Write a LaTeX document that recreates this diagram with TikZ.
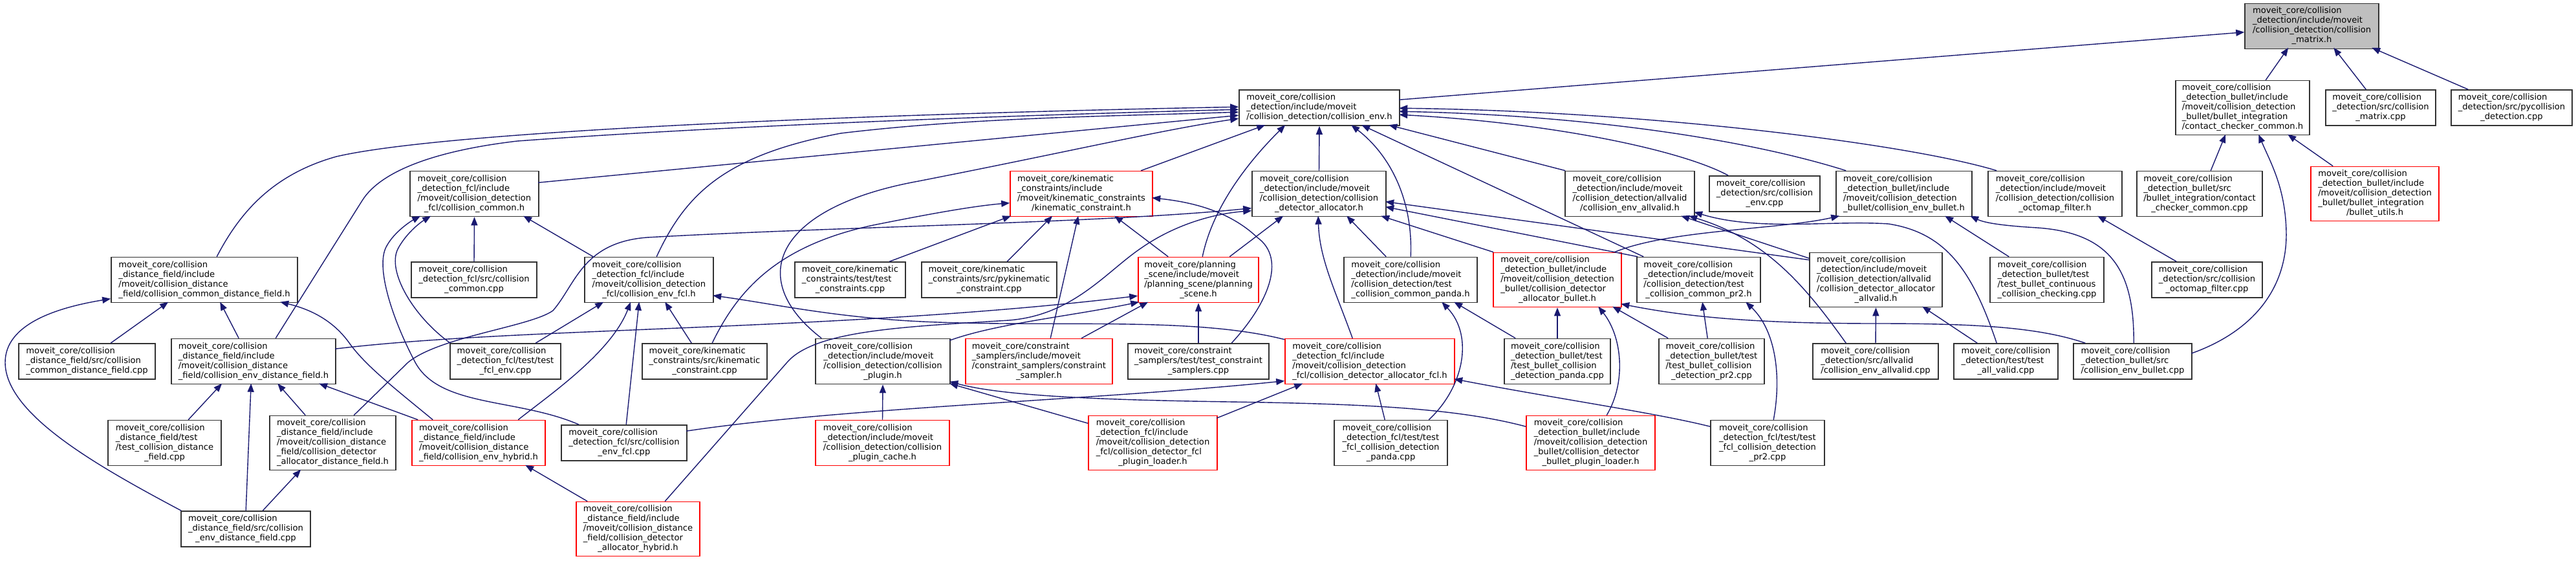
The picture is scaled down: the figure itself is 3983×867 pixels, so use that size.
\documentclass[tikz,border=0pt]{standalone}
\usepackage{fontspec}
\newfontfamily\dvs{DejaVu Sans}
\usetikzlibrary{arrows.meta,calc}
\definecolor{edgec}{HTML}{191970}
\definecolor{nodegray}{HTML}{BFBFBF}
\newcommand{\nlab}[2]{\begin{tabular}{@{}l@{}}#1\\\multicolumn{1}{@{}c@{}}{#2}\end{tabular}}
\begin{document}
\begin{tikzpicture}[x=1pt,y=-1pt,
  bx/.style={draw=black!80,line width=1.6pt,fill=white,inner sep=0pt,font={\dvs\fontsize{13.1pt}{15pt}\selectfont},anchor=center},
  rbx/.style={bx,draw=red},
  gbx/.style={bx,fill=nodegray},
  h3/.style={minimum height=55pt},
  h4/.style={minimum height=70pt},
  h5/.style={minimum height=84pt},
  dep/.style={draw=edgec,line width=1.4pt,-{Triangle[length=13pt,width=10pt]}}]
\useasboundingbox (0,0) rectangle (3983,867);
% level 0
\node[gbx,h4,minimum width=207pt] (n0) at (3574.5,40.5) {\nlab{moveit\_core/collision\\\_detection/include/moveit\\/collision\_detection/collision}{\_matrix.h}};
% row A
\node[bx,h3,minimum width=248pt] (envh) at (2040,166.5) {\nlab{moveit\_core/collision\\\_detection/include/moveit}{/collision\_detection/collision\_env.h}};
\node[bx,h5,minimum width=207pt] (ccch) at (3467.5,166.5) {\nlab{moveit\_core/collision\\\_detection\_bullet/include\\/moveit/collision\_detection\\\_bullet/bullet\_integration}{/contact\_checker\_common.h}};
\node[bx,h3,minimum width=170pt] (mcpp) at (3681,166.5) {\nlab{moveit\_core/collision\\\_detection/src/collision}{\_matrix.cpp}};
\node[bx,h3,minimum width=187pt] (pyc) at (3883.5,166.5) {\nlab{moveit\_core/collision\\\_detection/src/pycollision}{\_detection.cpp}};
% row B
\node[bx,h4,minimum width=199pt] (comh) at (733.5,299.5) {\nlab{moveit\_core/collision\\\_detection\_fcl/include\\/moveit/collision\_detection}{\_fcl/collision\_common.h}};
\node[rbx,h4,minimum width=220pt] (kinh) at (1672,299.5) {\nlab{moveit\_core/kinematic\\\_constraints/include\\/moveit/kinematic\_constraints}{/kinematic\_constraint.h}};
\node[bx,h4,minimum width=207pt] (alloch) at (2039.5,299.5) {\nlab{moveit\_core/collision\\\_detection/include/moveit\\/collision\_detection/collision}{\_detector\_allocator.h}};
\node[bx,h4,minimum width=200pt] (avh) at (2520,299.5) {\nlab{moveit\_core/collision\\\_detection/include/moveit\\/collision\_detection/allvalid}{/collision\_env\_allvalid.h}};
\node[bx,h3,minimum width=171pt] (envcpp) at (2728.5,299.5) {\nlab{moveit\_core/collision\\\_detection/src/collision}{\_env.cpp}};
\node[bx,h4,minimum width=210pt] (bulh) at (2944,299.5) {\nlab{moveit\_core/collision\\\_detection\_bullet/include\\/moveit/collision\_detection}{\_bullet/collision\_env\_bullet.h}};
\node[bx,h4,minimum width=207pt] (octh) at (3177.5,299.5) {\nlab{moveit\_core/collision\\\_detection/include/moveit\\/collision\_detection/collision}{\_octomap\_filter.h}};
\node[bx,h4,minimum width=194pt] (ccccpp) at (3401,299.5) {\nlab{moveit\_core/collision\\\_detection\_bullet/src\\/bullet\_integration/contact}{\_checker\_common.cpp}};
\node[rbx,h5,minimum width=198pt] (butl) at (3672,299.5) {\nlab{moveit\_core/collision\\\_detection\_bullet/include\\/moveit/collision\_detection\\\_bullet/bullet\_integration}{/bullet\_utils.h}};
% row C
\node[bx,h4,minimum width=288pt] (cdfh) at (316,432.5) {\nlab{moveit\_core/collision\\\_distance\_field/include\\/moveit/collision\_distance}{\_field/collision\_common\_distance\_field.h}};
\node[bx,h3,minimum width=194pt] (comcpp) at (733,432.5) {\nlab{moveit\_core/collision\\\_detection\_fcl/src/collision}{\_common.cpp}};
\node[bx,h4,minimum width=199pt] (envfclh) at (1003.5,432.5) {\nlab{moveit\_core/collision\\\_detection\_fcl/include\\/moveit/collision\_detection}{\_fcl/collision\_env\_fcl.h}};
\node[bx,h3,minimum width=171pt] (tcons) at (1314.5,432.5) {\nlab{moveit\_core/kinematic\\\_constraints/test/test}{\_constraints.cpp}};
\node[bx,h3,minimum width=209pt] (pykin) at (1529.5,432.5) {\nlab{moveit\_core/kinematic\\\_constraints/src/pykinematic}{\_constraint.cpp}};
\node[rbx,h4,minimum width=186pt] (psh) at (1853,432.5) {\nlab{moveit\_core/planning\\\_scene/include/moveit\\/planning\_scene/planning}{\_scene.h}};
\node[bx,h4,minimum width=206pt] (pandah) at (2181,432.5) {\nlab{moveit\_core/collision\\\_detection/include/moveit\\/collision\_detection/test}{\_collision\_common\_panda.h}};
\node[rbx,h5,minimum width=198pt] (allocbul) at (2408,432.5) {\nlab{moveit\_core/collision\\\_detection\_bullet/include\\/moveit/collision\_detection\\\_bullet/collision\_detector}{\_allocator\_bullet.h}};
\node[bx,h4,minimum width=191pt] (pr2h) at (2626.5,432.5) {\nlab{moveit\_core/collision\\\_detection/include/moveit\\/collision\_detection/test}{\_collision\_common\_pr2.h}};
\node[bx,h5,minimum width=205pt] (allocav) at (2900.5,432.5) {\nlab{moveit\_core/collision\\\_detection/include/moveit\\/collision\_detection/allvalid\\/collision\_detector\_allocator}{\_allvalid.h}};
\node[bx,h4,minimum width=176pt] (cont) at (3165,432.5) {\nlab{moveit\_core/collision\\\_detection\_bullet/test\\/test\_bullet\_continuous}{\_collision\_checking.cpp}};
\node[bx,h3,minimum width=171pt] (octcpp) at (3412.5,432.5) {\nlab{moveit\_core/collision\\\_detection/src/collision}{\_octomap\_filter.cpp}};
% row D
\node[bx,h3,minimum width=211pt] (cdfcpp) at (134.5,558.5) {\nlab{moveit\_core/collision\\\_distance\_field/src/collision}{\_common\_distance\_field.cpp}};
\node[bx,h4,minimum width=254pt] (edfh) at (392,558.5) {\nlab{moveit\_core/collision\\\_distance\_field/include\\/moveit/collision\_distance}{\_field/collision\_env\_distance\_field.h}};
\node[bx,h3,minimum width=171pt] (tfclenv) at (781.5,558.5) {\nlab{moveit\_core/collision\\\_detection\_fcl/test/test}{\_fcl\_env.cpp}};
\node[bx,h3,minimum width=193pt] (kincpp) at (1089.5,558.5) {\nlab{moveit\_core/kinematic\\\_constraints/src/kinematic}{\_constraint.cpp}};
\node[bx,h4,minimum width=208pt] (plugh) at (1365,558.5) {\nlab{moveit\_core/collision\\\_detection/include/moveit\\/collision\_detection/collision}{\_plugin.h}};
\node[rbx,h4,minimum width=227pt] (samph) at (1606.5,558.5) {\nlab{moveit\_core/constraint\\\_samplers/include/moveit\\/constraint\_samplers/constraint}{\_sampler.h}};
\node[bx,h3,minimum width=218pt] (sampcpp) at (1853,558.5) {\nlab{moveit\_core/constraint\\\_samplers/test/test\_constraint}{\_samplers.cpp}};
\node[rbx,h4,minimum width=262pt] (allocfcl) at (2118,558.5) {\nlab{moveit\_core/collision\\\_detection\_fcl/include\\/moveit/collision\_detection}{\_fcl/collision\_detector\_allocator\_fcl.h}};
\node[bx,h4,minimum width=164pt] (bpanda) at (2408,558.5) {\nlab{moveit\_core/collision\\\_detection\_bullet/test\\/test\_bullet\_collision}{\_detection\_panda.cpp}};
\node[bx,h4,minimum width=163pt] (bpr2) at (2646.5,558.5) {\nlab{moveit\_core/collision\\\_detection\_bullet/test\\/test\_bullet\_collision}{\_detection\_pr2.cpp}};
\node[bx,h3,minimum width=194pt] (avcpp) at (2900,558.5) {\nlab{moveit\_core/collision\\\_detection/src/allvalid}{/collision\_env\_allvalid.cpp}};
\node[bx,h3,minimum width=161pt] (tav) at (3101.5,558.5) {\nlab{moveit\_core/collision\\\_detection/test/test}{\_all\_valid.cpp}};
\node[bx,h3,minimum width=183pt] (ebcpp) at (3297.5,558.5) {\nlab{moveit\_core/collision\\\_detection\_bullet/src}{/collision\_env\_bullet.cpp}};
% row E
\node[bx,h4,minimum width=175pt] (tcdf) at (254.5,684.5) {\nlab{moveit\_core/collision\\\_distance\_field/test\\/test\_collision\_distance}{\_field.cpp}};
\node[bx,h5,minimum width=195pt] (allocdf) at (514.5,684.5) {\nlab{moveit\_core/collision\\\_distance\_field/include\\/moveit/collision\_distance\\\_field/collision\_detector}{\_allocator\_distance\_field.h}};
\node[rbx,h4,minimum width=206pt] (hybh) at (740,684.5) {\nlab{moveit\_core/collision\\\_distance\_field/include\\/moveit/collision\_distance}{\_field/collision\_env\_hybrid.h}};
\node[bx,h3,minimum width=194pt] (efclcpp) at (965,684.5) {\nlab{moveit\_core/collision\\\_detection\_fcl/src/collision}{\_env\_fcl.cpp}};
\node[rbx,h4,minimum width=207pt] (pcache) at (1364.5,684.5) {\nlab{moveit\_core/collision\\\_detection/include/moveit\\/collision\_detection/collision}{\_plugin\_cache.h}};
\node[rbx,h5,minimum width=199pt] (fclload) at (1782.5,684.5) {\nlab{moveit\_core/collision\\\_detection\_fcl/include\\/moveit/collision\_detection\\\_fcl/collision\_detector\_fcl}{\_plugin\_loader.h}};
\node[bx,h4,minimum width=175pt] (fpanda) at (2150.5,684.5) {\nlab{moveit\_core/collision\\\_detection\_fcl/test/test\\\_fcl\_collision\_detection}{\_panda.cpp}};
\node[rbx,h5,minimum width=199pt] (bulload) at (2459.5,684.5) {\nlab{moveit\_core/collision\\\_detection\_bullet/include\\/moveit/collision\_detection\\\_bullet/collision\_detector}{\_bullet\_plugin\_loader.h}};
\node[bx,h4,minimum width=176pt] (fpr2) at (2733,684.5) {\nlab{moveit\_core/collision\\\_detection\_fcl/test/test\\\_fcl\_collision\_detection}{\_pr2.cpp}};
% row F
\node[bx,h3,minimum width=200pt] (edfcpp) at (380,817.5) {\nlab{moveit\_core/collision\\\_distance\_field/src/collision}{\_env\_distance\_field.cpp}};
\node[rbx,h5,minimum width=191pt] (allochyb) at (986.5,817.5) {\nlab{moveit\_core/collision\\\_distance\_field/include\\/moveit/collision\_distance\\\_field/collision\_detector}{\_allocator\_hybrid.h}};

% edges
\draw[dep] ($(envh.north west)+(248,16)$) -- ($(n0.north west)+(0,45)$);
\draw[dep] ($(ccch.north west)+(140,0)$) -- ($(n0.north west)+(68,69)$);
\draw[dep] ($(mcpp.north west)+(63,0)$) -- ($(n0.north west)+(138,69)$);
\draw[dep] ($(pyc.north west)+(27,0)$) -- ($(n0.north west)+(197,69)$);
\draw[dep] ($(comh.north west)+(199,18.5)$) -- ($(envh.north west)+(0,40)$);
\draw[dep] ($(cdfh.north west)+(164,0)$) .. controls (370,330) and (420,270) .. (520,242) .. controls (700,200) and (1400,175) .. ($(envh.north west)+(0,27)$);
\draw[dep] ($(edfh.north west)+(162,0)$) -- (560,310) .. controls (590,262) and (680,232) .. (800,218) .. controls (1100,196) and (1500,180) .. ($(envh.north west)+(0,31)$);
\draw[dep] ($(envfclh.north west)+(112,0)$) .. controls (1060,300) and (1120,240) .. (1300,206) .. controls (1500,182) and (1700,180) .. ($(envh.north west)+(0,35)$);
\draw[dep] ($(plugh.north west)+(10,0)$) .. controls (1150,430) and (1200,320) .. (1420,280) .. controls (1650,235) and (1800,200) .. ($(envh.north west)+(0,45)$);
\draw[dep] ($(kinh.north west)+(203,0)$) -- ($(envh.north west)+(41,55)$);
\draw[dep] ($(psh.north west)+(100,0)$) .. controls (1875,320) and (1930,250) .. ($(envh.north west)+(72,55)$);
\draw[dep] (alloch.north) -- (envh.south);
\draw[dep] ($(pandah.north west)+(104,0)$) .. controls (2185,310) and (2150,240) .. ($(envh.north west)+(174,55)$);
\draw[dep] ($(pr2h.north west)+(11,0)$) -- ($(envh.north west)+(190,55)$);
\draw[dep] ($(avh.north west)+(1,0)$) -- ($(envh.north west)+(232,55)$);
\draw[dep] ($(envcpp.north west)+(30,0)$) .. controls (2600,232) and (2400,190) .. ($(envh.north west)+(248,39)$);
\draw[dep] ($(bulh.north west)+(16,0)$) .. controls (2700,215) and (2450,178) .. ($(envh.north west)+(248,34)$);
\draw[dep] ($(octh.north west)+(14,0)$) .. controls (2950,222) and (2550,172) .. ($(envh.north west)+(248,29)$);
\draw[dep] ($(ccccpp.north west)+(115,0)$) -- ($(ccch.north west)+(78,84)$);
\draw[dep] ($(butl.north west)+(35,0)$) -- ($(ccch.north west)+(174,84)$);
\draw[dep] ($(ebcpp.north west)+(183,16)$) .. controls (3490,510) and (3536,440) .. (3535,360) .. controls (3534,290) and (3510,250) .. ($(ccch.north west)+(129,84)$);
\draw[dep] ($(cont.north west)+(30,0)$) -- ($(bulh.north west)+(169,70)$);
\draw[dep] ($(ebcpp.north west)+(94,0)$) .. controls (3300,420) and (3265,360) .. (3150,352) .. controls (3100,349) and (3070,345) .. ($(bulh.north west)+(208,70)$);
\draw[dep] ($(octcpp.north west)+(39,0)$) -- ($(octh.north west)+(170,70)$);
\draw[dep] ($(allocbul.north west)+(188,0)$) .. controls (2580,355) and (2750,355) .. ($(bulh.north west)+(6,70)$);
\draw[dep] ($(allocav.north west)+(0,9.5)$) -- ($(avh.north west)+(180,70)$);
\draw[dep] ($(avcpp.north west)+(52,0)$) .. controls (2790,440) and (2730,370) .. ($(avh.north west)+(192,70)$);
\draw[dep] ($(tav.north west)+(67,0)$) .. controls (3050,420) and (3010,360) .. (2920,346) .. controls (2830,340) and (2720,358) .. ($(avh.north west)+(200,64)$);
\draw[dep] ($(tav.north west)+(37,0)$) -- ($(allocav.north west)+(175,84)$);
\draw[dep] (avcpp.north) -- (allocav.south);
\draw[dep] ($(allocav.north west)+(0,12)$) -- ($(alloch.north west)+(207,48)$);
\draw[dep] ($(pr2h.north west)+(2,0)$) -- ($(alloch.north west)+(207,56)$);
\draw[dep] ($(pandah.north west)+(66,0)$) -- ($(alloch.north west)+(147,70)$);
\draw[dep] ($(allocbul.north west)+(1,0)$) -- ($(alloch.north west)+(200,70)$);
\draw[dep] ($(psh.north west)+(142,0)$) -- ($(alloch.north west)+(49,70)$);
\draw[dep] ($(allocfcl.north west)+(105,0)$) .. controls (2065,450) and (2040,400) .. ($(alloch.north west)+(103,70)$);
\draw[dep] ($(allocdf.north west)+(131,0)$) -- (631,560) .. controls (680,520) and (820,505) .. (855,480) .. controls (890,440) and (900,375) .. (1000,367) .. controls (1300,350) and (1700,345) .. ($(alloch.north west)+(0,58)$);
\draw[dep] ($(allochyb.north west)+(138,0)$) -- (1217,560) .. controls (1260,510) and (1400,505) .. (1560,495) .. controls (1660,487) and (1710,420) .. (1765,383) .. controls (1820,345) and (1880,330) .. ($(alloch.north west)+(0,62)$);
\draw[dep] ($(edfh.north west)+(254,16.5)$) .. controls (800,505) and (1300,512) .. ($(psh.north west)+(0,60.5)$);
\draw[dep] ($(plugh.north west)+(208,3.5)$) .. controls (1540,500) and (1660,488) .. ($(psh.north west)+(2,70)$);
\draw[dep] ($(samph.north west)+(180,0)$) -- ($(psh.north west)+(16,70)$);
\draw[dep] (sampcpp.north) -- (psh.south);
\draw[dep] ($(sampcpp.north west)+(161,0)$) .. controls (1960,470) and (1990,400) .. (1944,367) .. controls (1900,325) and (1840,312) .. ($(kinh.north west)+(220,42)$);
\draw[dep] ($(psh.north west)+(47,0)$) -- ($(kinh.north west)+(162,70)$);
\draw[dep] ($(samph.north west)+(132,0)$) -- ($(kinh.north west)+(106,70)$);
\draw[dep] ($(pykin.north west)+(133,0)$) -- ($(kinh.north west)+(66,70)$);
\draw[dep] ($(tcons.north west)+(147,0)$) -- ($(kinh.north west)+(2,70)$);
\draw[dep] ($(kincpp.north west)+(109,0)$) .. controls (1140,450) and (1200,380) .. (1350,348) .. controls (1450,328) and (1510,318) .. ($(kinh.north west)+(0,50)$);
\draw[dep] ($(kincpp.north west)+(77,0)$) -- ($(envfclh.north west)+(125,70)$);
\draw[dep] (comcpp.north) -- (comh.south);
\draw[dep] ($(envfclh.north west)+(14,0)$) -- ($(comh.north west)+(176,70)$);
\draw[dep] ($(tfclenv.north west)+(133,0)$) -- ($(envfclh.north west)+(30,70)$);
\draw[dep] ($(tfclenv.north west)+(1,0)$) .. controls (640,490) and (598,420) .. (615,385) .. controls (627,362) and (648,345) .. ($(comh.north west)+(33,70)$);
\draw[dep] ($(efclcpp.north west)+(28,0)$) .. controls (800,615) and (680,630) .. (642,560) .. controls (605,490) and (580,410) .. (598,380) .. controls (610,358) and (635,342) .. ($(comh.north west)+(17,70)$);
\draw[dep] ($(efclcpp.north west)+(101,0)$) -- ($(envfclh.north west)+(85,70)$);
\draw[dep] ($(efclcpp.north west)+(194,10)$) .. controls (1300,630) and (1700,618) .. ($(allocfcl.north west)+(0,66)$);
\draw[dep] ($(hybh.north west)+(165,0)$) .. controls (850,610) and (945,545) .. ($(envfclh.north west)+(72,70)$);
\draw[dep] ($(hybh.north west)+(10,0)$) -- ($(edfh.north west)+(229,70)$);
\draw[dep] ($(hybh.north west)+(33,0)$) .. controls (610,600) and (565,565) .. (540,530) .. controls (515,495) and (480,478) .. ($(cdfh.north west)+(262,70)$);
\draw[dep] ($(cdfcpp.north west)+(143,0)$) -- ($(cdfh.north west)+(89,70)$);
\draw[dep] ($(edfh.north west)+(105,0)$) -- ($(cdfh.north west)+(169,70)$);
\draw[dep] ($(edfcpp.north west)+(1,0)$) .. controls (150,720) and (8,640) .. (8,560) .. controls (8,500) and (90,475) .. ($(cdfh.north west)+(0,65)$);
\draw[dep] ($(tcdf.north west)+(125,0)$) -- ($(edfh.north west)+(79,70)$);
\draw[dep] ($(edfcpp.north west)+(101,0)$) -- ($(edfh.north west)+(124,70)$);
\draw[dep] ($(allocdf.north west)+(56,0)$) -- ($(edfh.north west)+(165,70)$);
\draw[dep] ($(edfcpp.north west)+(127,0)$) -- ($(allocdf.north west)+(49,84)$);
\draw[dep] ($(allochyb.north west)+(18,0)$) -- ($(hybh.north west)+(176,70)$);
\draw[dep] (pcache.north) -- (plugh.south);
\draw[dep] ($(fclload.north west)+(0,12.5)$) -- ($(plugh.north west)+(208,70)$);
\draw[dep] ($(bulload.north west)+(0,17.5)$) .. controls (2250,630) and (2100,624) .. (1900,621) .. controls (1700,618) and (1550,612) .. ($(plugh.north west)+(208,67)$);
\draw[dep] ($(fclload.north west)+(199,4.5)$) -- ($(allocfcl.north west)+(28,70)$);
\draw[dep] ($(fpanda.north west)+(79,0)$) -- ($(allocfcl.north west)+(141,70)$);
\draw[dep] ($(fpr2.north west)+(0,10.5)$) .. controls (2560,638) and (2400,615) .. ($(allocfcl.north west)+(262,63)$);
\draw[dep] ($(fpanda.north west)+(147,0)$) .. controls (2262,600) and (2280,520) .. ($(pandah.north west)+(152,70)$);
\draw[dep] ($(fpr2.north west)+(98,0)$) .. controls (2755,580) and (2745,510) .. ($(pr2h.north west)+(169,70)$);
\draw[dep] ($(bpanda.north west)+(18,0)$) -- ($(pandah.north west)+(171,70)$);
\draw[dep] (bpanda.north) -- (allocbul.south);
\draw[dep] ($(bpr2.north west)+(15,0)$) -- ($(allocbul.north west)+(185,84)$);
\draw[dep] ($(bpr2.north west)+(76,0)$) -- ($(pr2h.north west)+(102,70)$);
\draw[dep] ($(bulload.north west)+(125,0)$) .. controls (2515,590) and (2508,520) .. ($(allocbul.north west)+(163,84)$);
\draw[dep] ($(ebcpp.north west)+(19,0)$) .. controls (3150,505) and (3050,500) .. (2900,500) .. controls (2700,500) and (2600,488) .. ($(allocbul.north west)+(198,80)$);
\draw[dep] ($(allocfcl.north west)+(0,2)$) .. controls (1850,490) and (1650,505) .. (1450,498) .. controls (1300,493) and (1200,470) .. ($(envfclh.north west)+(199,60)$);
\end{tikzpicture}
\end{document}
